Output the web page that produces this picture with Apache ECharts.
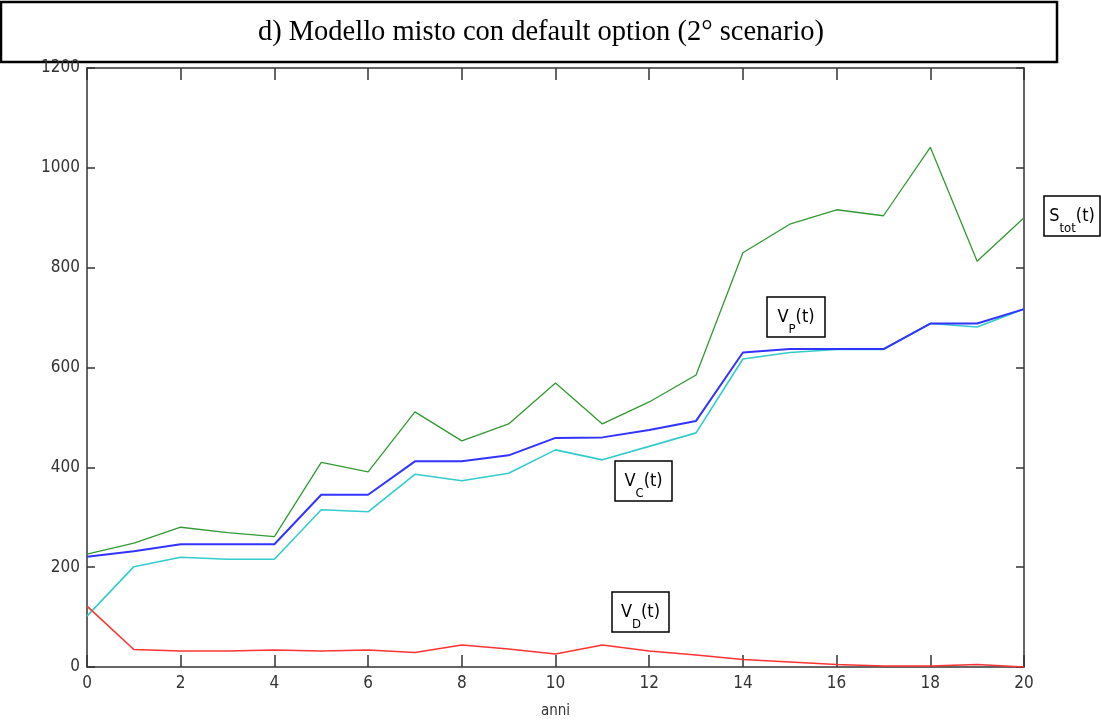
<!DOCTYPE html>
<html>
<head>
<meta charset="utf-8">
<script src="https://cdn.jsdelivr.net/npm/echarts@6/dist/echarts.min.js"></script>
<style>
  html, body { margin: 0; padding: 0; background: #fff; }
  #chart { width: 1101px; height: 722px; }
</style>
</head>
<body>
<div id="chart"></div>
<script>
// anni 0..20
var anni = [0, 1, 2, 3, 4, 5, 6, 7, 8, 9, 10, 11, 12, 13, 14, 15, 16, 17, 18, 19, 20];

// S_tot(t)
var sTot = [226, 248, 280, 269, 261, 410, 391, 511, 453, 487, 569, 487, 531, 585, 830, 887, 916, 904, 1041, 813, 900];
// V_P(t)
var vP = [221, 232, 246, 246, 246, 345, 345, 412, 412, 424, 459, 460, 475, 493, 630, 637, 637, 637, 688, 688, 717];
// V_C(t)
var vC = [102, 201, 220, 216, 216, 315, 311, 386, 373, 388, 435, 415, 442, 469, 617, 630, 636, 636, 688, 681, 717];
// V_D(t)
var vD = [122, 35, 32, 32, 34, 32, 34, 29, 44, 36, 26, 44, 32, 24, 15, 10, 5, 2, 2, 5, 0];

function pairs(ys) {
  return anni.map(function (x, i) { return [x, ys[i]]; });
}

var axisFont = "'DejaVu Sans Condensed', 'Liberation Sans', sans-serif";
var axisCol = '#333';

var chart = echarts.init(document.getElementById('chart'), null, { renderer: 'canvas' });

function boxLabel(x, y, w, h, main, sub) {
  return [
    {
      type: 'rect',
      shape: { x: x, y: y, width: w, height: h },
      style: { fill: '#fff', stroke: '#000', lineWidth: 1.5 },
      z: 100
    },
    {
      type: 'text',
      x: x + w / 2,
      y: y + h / 2,
      z: 101,
      style: {
        text: '{v|' + main + '}{s|' + sub + '}{v|(t)}',
        align: 'center',
        verticalAlign: 'middle',
        fill: '#000',
        rich: {
          v: { fontSize: 18, fontFamily: axisFont, lineHeight: 26, verticalAlign: 'middle' },
          s: { fontSize: 13, fontFamily: axisFont, lineHeight: 26, verticalAlign: 'bottom', padding: [0, 0, -6, 0] }
        }
      }
    }
  ];
}

function plain(v) { return String(v); }

var option = {
  animation: false,
  backgroundColor: '#fff',
  grid: { left: 87, right: 77, top: 68, bottom: 55, containLabel: false, outerBoundsMode: 'none' },
  xAxis: [
    {
      type: 'value',
      min: 0, max: 20, interval: 2,
      name: 'anni',
      nameLocation: 'middle',
      nameGap: 37,
      nameTextStyle: { fontFamily: axisFont, fontSize: 15, color: axisCol },
      axisLine: { onZero: false, lineStyle: { color: axisCol, width: 1.5 } },
      axisTick: { inside: true, length: 12, lineStyle: { color: axisCol, width: 1.5 } },
      axisLabel: { fontFamily: axisFont, fontSize: 17, color: axisCol, margin: 8, formatter: plain },
      splitLine: { show: false }
    },
    {
      type: 'value',
      position: 'top',
      min: 0, max: 20, interval: 2,
      axisLine: { onZero: false, lineStyle: { color: axisCol, width: 1.5 } },
      axisTick: { inside: true, length: 12, lineStyle: { color: axisCol, width: 1.5 } },
      axisLabel: { show: false },
      splitLine: { show: false }
    }
  ],
  yAxis: [
    {
      type: 'value',
      min: 0, max: 1200, interval: 200,
      axisLine: { show: true, onZero: false, lineStyle: { color: axisCol, width: 1.5 } },
      axisTick: { show: true, inside: true, length: 8, lineStyle: { color: axisCol, width: 1.5 } },
      axisLabel: { fontFamily: axisFont, fontSize: 17, color: axisCol, margin: 7, formatter: plain },
      splitLine: { show: false }
    },
    {
      type: 'value',
      position: 'right',
      min: 0, max: 1200, interval: 200,
      axisLine: { show: true, onZero: false, lineStyle: { color: axisCol, width: 1.5 } },
      axisTick: { show: true, inside: true, length: 8, lineStyle: { color: axisCol, width: 1.5 } },
      axisLabel: { show: false },
      splitLine: { show: false }
    }
  ],
  series: [
    {
      name: 'V_C(t)', type: 'line', data: pairs(vC), showSymbol: false,
      lineStyle: { color: '#33cccc', width: 1.6 }, z: 2
    },
    {
      name: 'V_P(t)', type: 'line', data: pairs(vP), showSymbol: false,
      lineStyle: { color: '#3333ff', width: 2 }, z: 3
    },
    {
      name: 'S_tot(t)', type: 'line', data: pairs(sTot), showSymbol: false,
      lineStyle: { color: '#339933', width: 1.3 }, z: 4
    },
    {
      name: 'V_D(t)', type: 'line', data: pairs(vD), showSymbol: false,
      lineStyle: { color: '#ff3333', width: 1.6 }, z: 5
    }
  ],
  graphic: [
    {
      type: 'rect',
      shape: { x: 1, y: 2, width: 1056, height: 60 },
      style: { fill: '#fff', stroke: '#000', lineWidth: 2.5 }
    },
    {
      type: 'text',
      x: 541, y: 33,
      style: {
        text: 'd) Modello misto con default option (2° scenario)',
        font: "28.5px 'Liberation Serif', 'Times New Roman', serif",
        fill: '#000',
        align: 'center',
        verticalAlign: 'middle'
      }
    }
  ]
    .concat(boxLabel(767, 297, 58, 40, 'V', 'P'))
    .concat(boxLabel(615, 461, 57, 40, 'V', 'C'))
    .concat(boxLabel(612, 592, 57, 40, 'V', 'D'))
    .concat(boxLabel(1044, 196, 56, 40, 'S', 'tot'))
};

chart.setOption(option);
</script>
</body>
</html>
